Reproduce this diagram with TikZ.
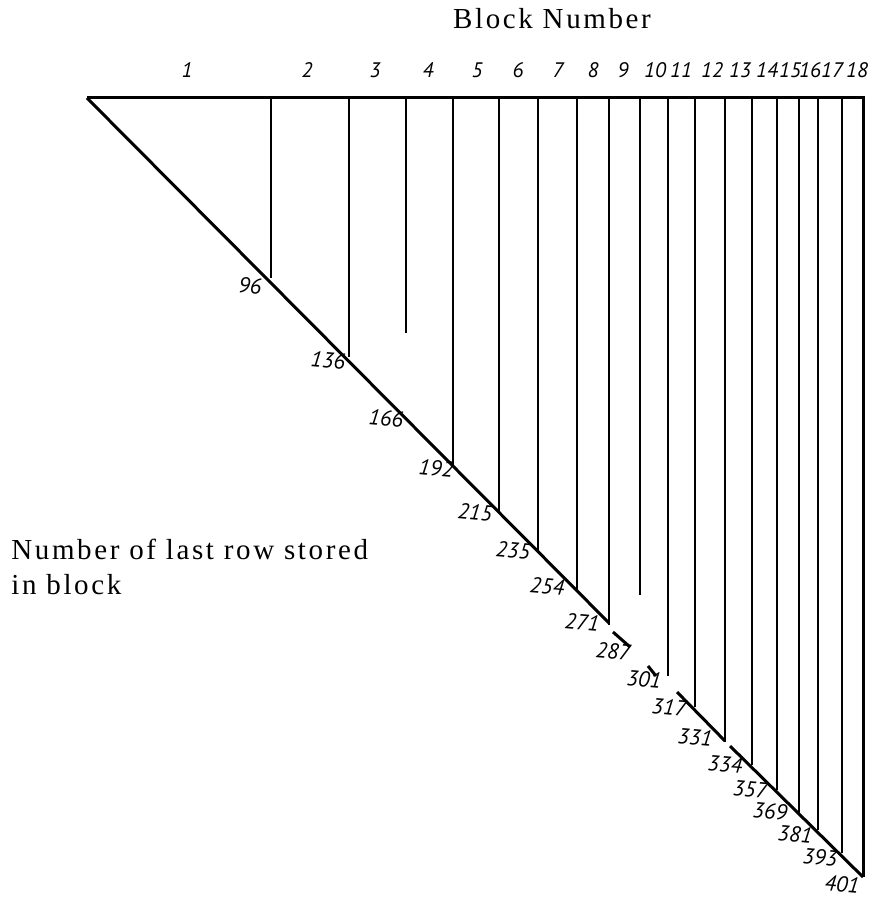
\documentclass[tikz,border=0pt]{standalone}
\usepackage{fontspec}
\setmainfont{Liberation Serif}
\newfontfamily\handfont{PT Sans}

\tikzset{
  printed/.style={inner sep=0pt,font=\fontsize{14.5}{17.5}\selectfont\addfontfeatures{LetterSpace=9}},
  blocknum/.style={inner sep=0pt,font=\handfont\itshape\fontsize{10.5}{12}\selectfont},
  rowlabel/.style={inner sep=0pt,rotate=-5,font=\handfont\itshape\fontsize{11}{13}\selectfont},
  edge/.style={line width=1.5pt},
  divider/.style={line width=0.7pt}
}

\begin{document}
\begin{tikzpicture}[x=0.5pt,y=-0.5pt]
    \useasboundingbox (0,0) rectangle (873,898);
    \node[printed,anchor=base] (title) at (552,29) {Block Number};
    \node[printed,anchor=north west,align=left] (rowtext) at (11,539) {Number of last row stored\\in block};
    \foreach \x [count=\i] in {187,307,375,428,477,518,558,593,623,655,681,712,740,767,790,810,832,857}
      {\node[blocknum] (blk\i) at (\x,70) {\i};}
    \foreach \x/\y in {271/278,349/357,406/333,453/467,499/512,538/550,577/590,609/625,640/595,
                       668/676,695/707,725/742,752/765,777/790,799/813,818/830,842/853}
      {\draw[divider] (\x,98)--(\x,\y);}
    \draw[edge] (87,98)--(863,98)--(863,877);
    \draw[edge] (87,98)--(609,623) (613,632)--(630,647) (648,666)--(656,676)
                (677,692)--(725,741) (730,746)--(863,877);
    \foreach \x/\y/\t in {250/286/96,328/360/136,386/418/166,436/468/192,475/512/215,513/550/235,
                          547/586/254,582/622/271,613/651/287,644/679/301,669/707/317,695/737/331,
                          725/764/334,750/789/357,770/811/369,795/834/381,820/857/393,842/884/401}
      {\node[rowlabel] (row\t) at (\x,\y) {\t};}
  \end{tikzpicture}
\end{document}
